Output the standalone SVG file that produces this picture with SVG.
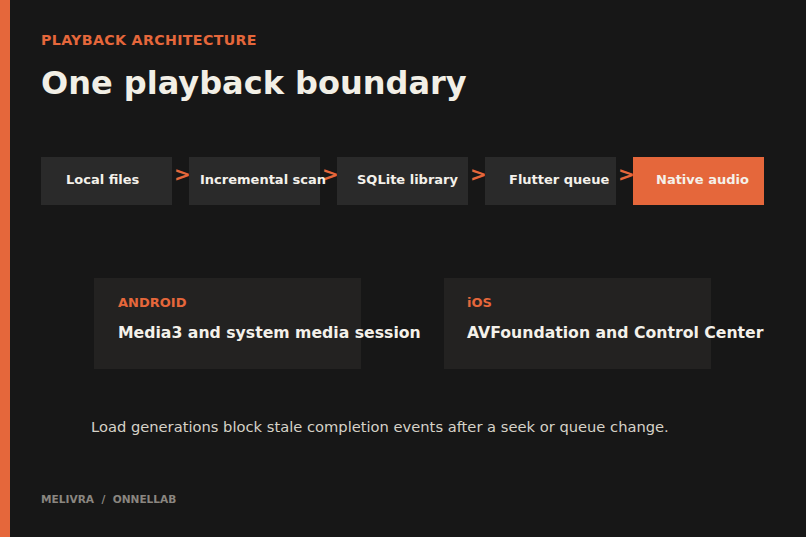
<svg xmlns="http://www.w3.org/2000/svg" width="806" height="537" viewBox="0 0 806 537">
<style>
text{font-family:"DejaVu Sans","Liberation Sans",sans-serif}
.box{fill:#2a2a2a}
.hot{fill:#e5673b}
.lbl{font-size:13px;font-weight:bold;fill:#f4f1ea}
.arr{font-size:20px;font-weight:bold;fill:#e5673b}
.card{fill:#232221}
.kick{font-size:13px;font-weight:bold;fill:#e5673b}
.main{font-size:15.7px;font-weight:bold;fill:#f4f1ea}
</style>
<rect width="806" height="537" fill="#171717"/>
<rect x="0" y="0" width="10" height="537" fill="#e5673b"/>
<text x="41" y="45" font-size="14.2" font-weight="bold" fill="#e5673b" letter-spacing="0.35">PLAYBACK ARCHITECTURE</text>
<text x="41" y="94" font-size="32" font-weight="bold" fill="#f2efe6">One playback boundary</text>
<g id="connectors">
<text class="arr" x="174" y="181">&gt;</text>
<text class="arr" x="322" y="181">&gt;</text>
<text class="arr" x="470" y="181">&gt;</text>
<text class="arr" x="618" y="181">&gt;</text>
</g>
<g id="n1"><rect class="box" x="41" y="157" width="131" height="48"/><text class="lbl" x="66" y="184">Local files</text></g>
<g id="n2"><rect class="box" x="189" y="157" width="131" height="48"/><text class="lbl" x="200" y="184">Incremental scan</text></g>
<g id="n3"><rect class="box" x="337" y="157" width="131" height="48"/><text class="lbl" x="357" y="184">SQLite library</text></g>
<g id="n4"><rect class="box" x="485" y="157" width="131" height="48"/><text class="lbl" x="509" y="184">Flutter queue</text></g>
<g id="n5"><rect class="hot" x="633" y="157" width="131" height="48"/><text class="lbl" x="656" y="184">Native audio</text></g>
<g id="android"><rect class="card" x="94" y="278" width="267" height="91"/><text class="kick" x="118" y="307">ANDROID</text><text class="main" x="118" y="338">Media3 and system media session</text></g>
<g id="ios"><rect class="card" x="444" y="278" width="267" height="91"/><text class="kick" x="467" y="307">iOS</text><text class="main" x="467" y="338">AVFoundation and Control Center</text></g>
<text x="91" y="432" font-size="14.7" fill="#d6d2c8">Load generations block stale completion events after a seek or queue change.</text>
<text x="41" y="503" font-size="10.6" font-weight="bold" fill="#8a8680" xml:space="preserve">MELIVRA  /  ONNELLAB</text>
</svg>
